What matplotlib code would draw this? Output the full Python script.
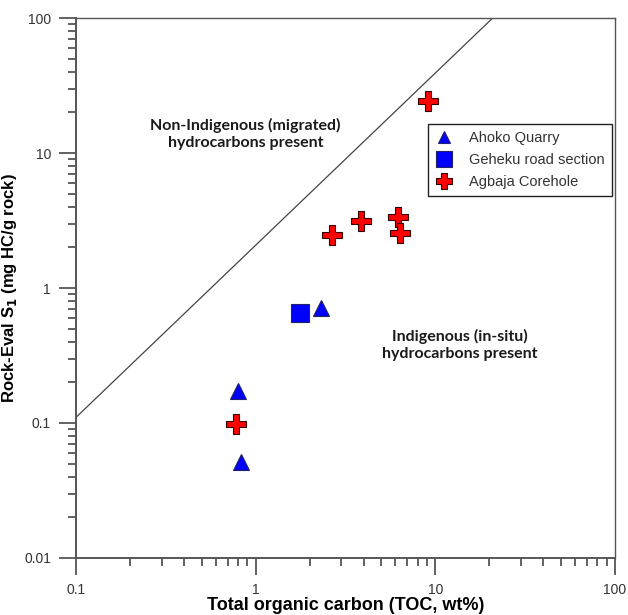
import matplotlib.pyplot as plt
from matplotlib.ticker import LogLocator, NullFormatter, FixedLocator, FixedFormatter

# Ahoko Quarry (triangles)
ahoko_toc = [0.80, 0.83, 2.30]
ahoko_s1 = [0.173, 0.051, 0.705]
# Geheku road section (square)
geheku_toc = [1.76]
geheku_s1 = [0.65]
# Agbaja Corehole (crosses)
agbaja_toc = [0.78, 9.15, 2.67, 3.84, 6.23, 6.33]
agbaja_s1 = [0.098, 24.3, 2.48, 3.11, 3.35, 2.55]

# dividing line between indigenous / migrated fields
line_toc = [0.1, 20.9]
line_s1 = [0.11, 100]

x_ticks = [0.1, 1, 10, 100]
x_labels = ['0.1', '1', '10', '100']
y_ticks = [0.01, 0.1, 1, 10, 100]
y_labels = ['0.01', '0.1', '1', '10', '100']

fig = plt.figure(figsize=(6.28, 6.15), dpi=100)
ax = fig.add_axes([0.121, 0.0927, 0.858, 0.878])

ax.plot(line_toc, line_s1, color='#444444', lw=0.9, zorder=2)

ax.plot(ahoko_toc, ahoko_s1, ls='none', marker='^', ms=11, mfc='#0000ff',
        mec='#222266', mew=0.8, label='Ahoko Quarry', zorder=3)
ax.plot(geheku_toc, geheku_s1, ls='none', marker='s', ms=13, mfc='#0000ff',
        mec='#222266', mew=0.8, label='Geheku road section', zorder=3)
ax.plot(agbaja_toc, agbaja_s1, ls='none', marker='P', ms=14, mfc='#ff0000',
        mec='#330000', mew=0.8, label='Agbaja Corehole', zorder=3)

ax.set_xscale('log')
ax.set_yscale('log')
ax.set_xlim(0.1, 100)
ax.set_ylim(0.01, 100)

ax.xaxis.set_major_locator(FixedLocator(x_ticks))
ax.xaxis.set_major_formatter(FixedFormatter(x_labels))
ax.yaxis.set_major_locator(FixedLocator(y_ticks))
ax.yaxis.set_major_formatter(FixedFormatter(y_labels))
ax.xaxis.set_minor_locator(LogLocator(base=10, subs=range(2, 10)))
ax.yaxis.set_minor_locator(LogLocator(base=10, subs=range(2, 10)))
ax.xaxis.set_minor_formatter(NullFormatter())
ax.yaxis.set_minor_formatter(NullFormatter())

ax.tick_params(which='major', direction='out', length=12, width=1.3,
               color='#555555', labelsize=10, labelcolor='#333333', pad=6)
ax.tick_params(which='minor', direction='out', length=6, width=1.3, color='#555555')
for lab in ax.get_xticklabels() + ax.get_yticklabels():
    lab.set_family('Liberation Sans')
for sp in ax.spines.values():
    sp.set_color('#555555')
    sp.set_linewidth(1.4)
ax.spines['top'].set_linewidth(1.0)
ax.spines['right'].set_linewidth(1.0)

ax.set_xlabel('Total organic carbon (TOC, wt%)', fontsize=13, fontweight='bold',
              family='Liberation Sans', labelpad=0)
ax.set_ylabel('Rock-Eval S$_\\mathbf{1}$ (mg HC/g rock)', fontsize=12, fontweight='bold',
              family='Liberation Sans', labelpad=4)

ax.text(0.315, 0.785, 'Non-Indigenous (migrated)\nhydrocarbons present', transform=ax.transAxes,
        ha='center', va='center', fontsize=11.5, fontweight='bold', color='#1a1a1a',
        family='Lato', linespacing=1.3)
ax.text(0.713, 0.395, 'Indigenous (in-situ)\nhydrocarbons present', transform=ax.transAxes,
        ha='center', va='center', fontsize=11.5, fontweight='bold', color='#1a1a1a',
        family='Lato', linespacing=1.3)

leg = ax.legend(loc='upper right', bbox_to_anchor=(0.995, 0.804), fancybox=False,
                edgecolor='#222222', framealpha=1, borderpad=0.5, handlelength=1.2,
                handletextpad=1.1, labelspacing=0.55, borderaxespad=0,
                prop={'family': 'Liberation Sans', 'size': 10.5}, markerscale=0.85)
leg.get_frame().set_linewidth(1.0)
for t in leg.get_texts():
    t.set_color('#333333')

fig.savefig('out.png', dpi=100)
